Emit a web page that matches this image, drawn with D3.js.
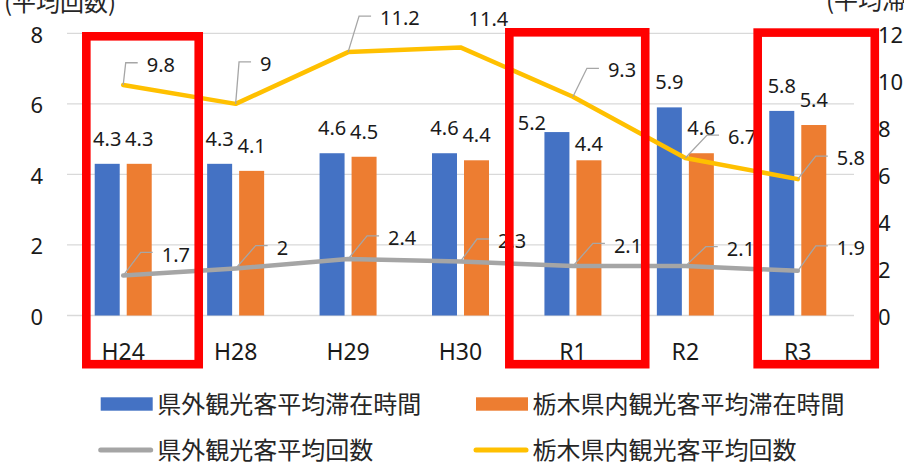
<!DOCTYPE html>
<html lang="ja">
<head>
<meta charset="utf-8">
<script src="https://cdn.jsdelivr.net/npm/d3@7"></script>
<style>
  html, body { margin: 0; padding: 0; background: #fff; overflow: hidden; }
  svg { display: block; }
  .num { font-family: "Noto Sans", "Open Sans", sans-serif; }
  .jp { font-family: "Noto Sans CJK JP", "Noto Sans", sans-serif; }
</style>
</head>
<body>
<svg id="chart" width="904" height="462"></svg>
<script>
// ---- data ----
const categories = ["H24", "H28", "H29", "H30", "R1", "R2", "R3"];
const outsideStay = [4.3, 4.3, 4.6, 4.6, 5.2, 5.9, 5.8];     // 県外観光客平均滞在時間
const insideStay = [4.3, 4.1, 4.5, 4.4, 4.4, 4.6, 5.4];      // 栃木県内観光客平均滞在時間
const outsideVisits = [1.7, 2, 2.4, 2.3, 2.1, 2.1, 1.9];     // 県外観光客平均回数
const insideVisits = [9.8, 9, 11.2, 11.4, 9.3, 6.7, 5.8];    // 栃木県内観光客平均回数
const leftTicks = [0, 2, 4, 6, 8];
const rightTicks = [0, 2, 4, 6, 8, 10, 12];
const seriesNames = ["県外観光客平均滞在時間", "栃木県内観光客平均滞在時間", "県外観光客平均回数", "栃木県内観光客平均回数"];
const highlighted = ["H24", "R1", "R3"];

// ---- layout ----
const plot = { left: 67, right: 854, top: 33.3, bottom: 315.5 };
const colors = { outStay: "#4472C4", inStay: "#ED7D31", outVisit: "#A5A5A5", inVisit: "#FFC000" };
// bar label shifts [dx, dy] from the default spot above each bar
const outsideStayNudge = [[0, 0], [0, 0], [0, 0], [0, 0], [-25, 16], [0, 0], [0, 0]];
const insideStayNudge = [[0, 0], [0, 0], [0, 0], [0, 0], [0, 9], [0, 0], [0, 0]];
// label placement for line points: [dx to text start, dy to leader elbow, leader?]
const insideLabelNudge = [[23.5, -22.3, 1], [24.4, -42, 1], [32, -36, 1], [8, -31, 0], [35, -28.5, 1], [42.7, -22.9, 1], [39, -23, 1]];
const outsideLabelNudge = [[38.5, -23.2, 1], [41, -22.8, 1], [40, -23.1, 1], [37.5, -22.4, 1], [41, -22.8, 1], [41.4, -19.4, 1], [39, -25, 1]];
// highlight frames: offsets from band centre [left, right], top edge (outer)
const frameShape = { H24: [-41.2, 79.8, 32], R1: [-67.9, 76.6, 28], R3: [-44.4, 81.3, 28.3] };

const svg = d3.select("#chart");

const x = d3.scaleBand().domain(categories).range([plot.left, plot.right]).padding(0);
const xSub = d3.scaleBand().domain(["out", "in"]).range([-28.5, 28.5]).paddingInner(0.219);
const yL = d3.scaleLinear().domain([0, 8]).range([plot.bottom, plot.top]);
const yR = d3.scaleLinear().domain([0, 12]).range([plot.bottom, plot.top]);
const cx = c => x(c) + x.bandwidth() / 2;

// chart title (mostly above the visible area)
svg.append("text").attr("class", "jp")
  .attr("x", 473).attr("y", -3).attr("text-anchor", "middle")
  .attr("font-size", 24).attr("fill", "#262626")
  .text("県外観光客と栃木県内観光客の平均滞在時間・平均回数の推移");

// axis titles
svg.append("text").attr("class", "jp").attr("x", 4).attr("y", 10.5)
  .attr("font-size", 24).attr("fill", "#262626").text("(平均回数)");
svg.append("text").attr("class", "jp").attr("x", 826).attr("y", 9)
  .attr("font-size", 24).attr("fill", "#262626").text("(平均滞在時間)");

// gridlines
svg.append("g").selectAll("line").data(leftTicks).join("line")
  .attr("x1", plot.left).attr("x2", plot.right)
  .attr("y1", d => yL(d)).attr("y2", d => yL(d))
  .attr("stroke", "#D9D9D9").attr("stroke-width", 1.3);

// left axis
const axL = svg.append("g").attr("transform", `translate(${plot.left - 24},0)`)
  .call(d3.axisLeft(yL).tickValues(leftTicks).tickSize(0).tickPadding(0));
axL.select(".domain").remove();
axL.selectAll("text").attr("class", "num").attr("font-size", 22).attr("fill", "#1a1a1a")
  .attr("dy", "0.4em");

// right axis
const axR = svg.append("g").attr("transform", `translate(${plot.right + 24},0)`)
  .call(d3.axisRight(yR).tickValues(rightTicks).tickSize(0).tickPadding(0));
axR.select(".domain").remove();
axR.selectAll("text").attr("class", "num").attr("font-size", 22).attr("fill", "#1a1a1a")
  .attr("dy", "0.4em");

// category axis
const axX = svg.append("g").attr("transform", `translate(0,${plot.bottom})`)
  .call(d3.axisBottom(x).tickSize(0).tickPadding(0));
axX.select(".domain").remove();
axX.selectAll("text").attr("class", "num").attr("font-size", 23).attr("fill", "#1a1a1a")
  .attr("dy", 0).attr("y", 44).attr("dominant-baseline", "auto");

// bars
const barRows = categories.map((c, i) => ({
  c, out: outsideStay[i], in: insideStay[i],
  nout: outsideStayNudge[i], nin: insideStayNudge[i]
}));
const bars = svg.append("g");
["out", "in"].forEach(k => {
  const col = k === "out" ? colors.outStay : colors.inStay;
  bars.selectAll(`rect.b-${k}`).data(barRows).join("rect").attr("class", `b-${k}`)
    .attr("x", d => cx(d.c) + xSub(k)).attr("width", xSub.bandwidth())
    .attr("y", d => yL(d[k])).attr("height", d => yL(0) - yL(d[k]))
    .attr("fill", col);
  bars.selectAll(`text.l-${k}`).data(barRows).join("text").attr("class", `num l-${k}`)
    .attr("x", d => cx(d.c) + xSub(k) + xSub.bandwidth() / 2 + d["n" + k][0])
    .attr("y", d => yL(d[k]) - 18 + d["n" + k][1])
    .attr("text-anchor", "middle").attr("font-size", 20).attr("fill", "#1a1a1a")
    .text(d => d[k]);
});

// lines on the right axis
function drawLine(values, color, nudges) {
  const pts = categories.map((c, i) => ({ c, v: values[i], n: nudges[i] }));
  svg.append("path").datum(pts)
    .attr("d", d3.line().x(d => cx(d.c)).y(d => yR(d.v)))
    .attr("fill", "none").attr("stroke", color).attr("stroke-width", 4.5)
    .attr("stroke-linejoin", "round").attr("stroke-linecap", "round");
  const g = svg.append("g");
  pts.forEach(d => {
    const px = cx(d.c), py = yR(d.v);
    const tx = px + d.n[0], ey = py + d.n[1];
    if (d.n[2]) {
      g.append("polyline")
        .attr("points", `${px},${py} ${tx - 21},${ey} ${tx - 9},${ey}`)
        .attr("fill", "none").attr("stroke", "#A6A6A6").attr("stroke-width", 1.3);
    }
    g.append("text").attr("class", "num").attr("x", tx).attr("y", ey + 9.2)
      .attr("font-size", 20).attr("fill", "#1a1a1a").text(d.v);
  });
}
drawLine(outsideVisits, colors.outVisit, outsideLabelNudge);
drawLine(insideVisits, colors.inVisit, insideLabelNudge);

// highlight frames
const sw = 8.6, frameBottom = 368.5;
svg.append("g").selectAll("rect").data(highlighted).join("rect")
  .attr("x", c => cx(c) + frameShape[c][0] + sw / 2)
  .attr("y", c => frameShape[c][2] + sw / 2)
  .attr("width", c => frameShape[c][1] - frameShape[c][0] - sw)
  .attr("height", c => frameBottom - frameShape[c][2] - sw)
  .attr("fill", "none").attr("stroke", "#FF0000").attr("stroke-width", sw);

// legend
const legend = [
  { name: seriesNames[0], color: colors.outStay, type: "box", x: 100.7, y: 404 },
  { name: seriesNames[1], color: colors.inStay, type: "box", x: 476, y: 404 },
  { name: seriesNames[2], color: colors.outVisit, type: "line", x: 100.7, y: 450 },
  { name: seriesNames[3], color: colors.inVisit, type: "line", x: 476, y: 450 }
];
const lg = svg.append("g");
legend.forEach(d => {
  if (d.type === "box") {
    lg.append("rect").attr("x", d.x).attr("y", d.y - 6.7).attr("width", 52).attr("height", 13.4).attr("fill", d.color);
  } else {
    lg.append("line").attr("x1", d.x).attr("x2", d.x + 50).attr("y1", d.y).attr("y2", d.y)
      .attr("stroke", d.color).attr("stroke-width", 5).attr("stroke-linecap", "round");
  }
  lg.append("text").attr("class", "jp").attr("x", d.x + 56.5).attr("y", d.y + 8.5)
    .attr("font-size", 24).attr("fill", "#262626").text(d.name);
});
</script>
</body>
</html>
